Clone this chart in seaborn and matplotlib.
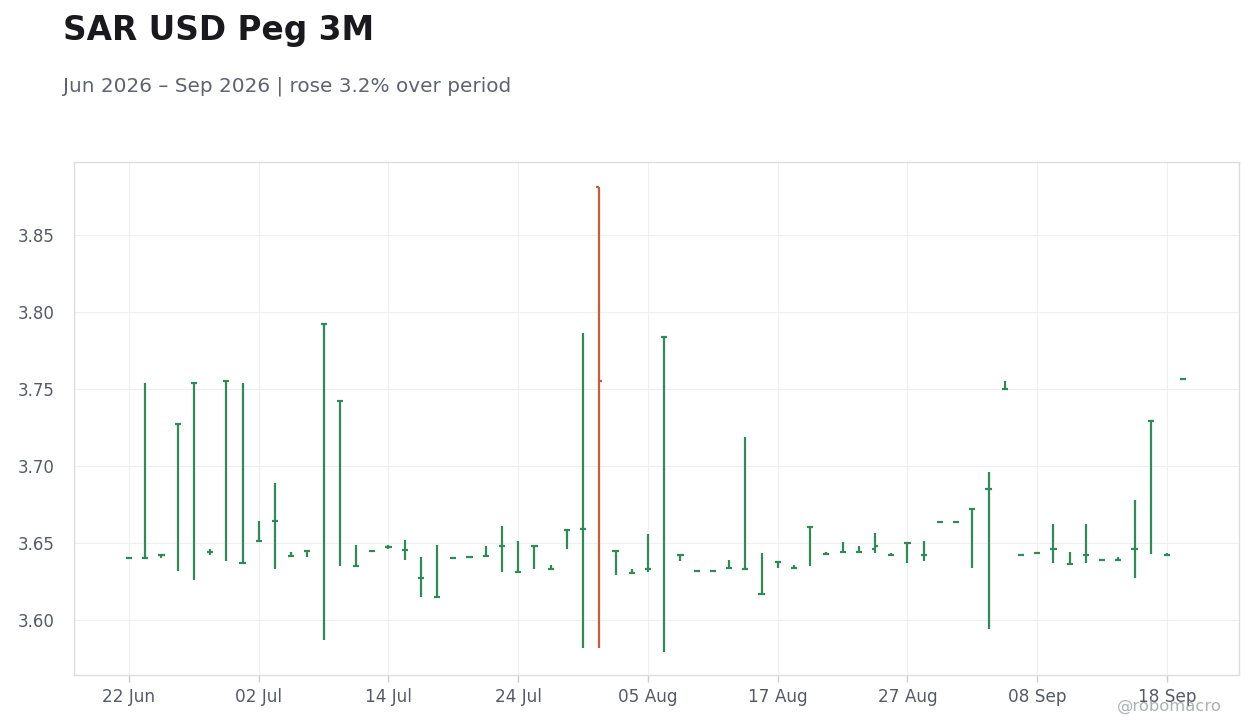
import matplotlib
matplotlib.use("Agg")
import matplotlib.pyplot as plt
import seaborn as sns
import numpy as np
import pandas as pd

# ---- data ----
dates = pd.bdate_range("2026-06-22", periods=66)
open_ = [3.640, 3.640, 3.642, 3.727, 3.754, 3.644, 3.755, 3.637, 3.651, 3.664,
         3.6415, 3.6445, 3.792, 3.742, 3.635, 3.645, 3.6476, 3.6456, 3.6275, 3.615,
         3.6405, 3.641, 3.6415, 3.648, 3.631, 3.648, 3.6334, 3.6587, 3.659, 3.881,
         3.645, 3.6307, 3.633, 3.784, 3.642, 3.632, 3.632, 3.634, 3.633, 3.617,
         3.6374, 3.634, 3.6606, 3.643, 3.644, 3.644, 3.6463, 3.6424, 3.650, 3.6424,
         3.6634, 3.6634, 3.672, 3.685, 3.750, 3.642, 3.6437, 3.646, 3.6366, 3.642,
         3.6392, 3.6392, 3.646, 3.729, 3.6424, 3.7567]
high = [3.640, 3.754, 3.642, 3.727, 3.754, 3.646, 3.755, 3.754, 3.664, 3.689,
        3.644, 3.6445, 3.792, 3.742, 3.649, 3.645, 3.6487, 3.652, 3.641, 3.649,
        3.6405, 3.641, 3.648, 3.661, 3.651, 3.648, 3.6355, 3.6587, 3.786, 3.881,
        3.645, 3.633, 3.656, 3.784, 3.642, 3.632, 3.632, 3.639, 3.719, 3.6435,
        3.6374, 3.6357, 3.6606, 3.644, 3.6506, 3.648, 3.6565, 3.6433, 3.650, 3.651,
        3.6634, 3.664, 3.672, 3.696, 3.755, 3.643, 3.6437, 3.662, 3.644, 3.662,
        3.6392, 3.6407, 3.678, 3.729, 3.6433, 3.7567]
low = [3.640, 3.640, 3.640, 3.632, 3.626, 3.642, 3.638, 3.637, 3.651, 3.633,
       3.6415, 3.641, 3.587, 3.635, 3.635, 3.645, 3.646, 3.639, 3.615, 3.615,
       3.6405, 3.641, 3.6415, 3.631, 3.631, 3.633, 3.6334, 3.646, 3.582, 3.582,
       3.629, 3.6307, 3.631, 3.579, 3.6385, 3.632, 3.632, 3.634, 3.633, 3.617,
       3.634, 3.634, 3.635, 3.643, 3.644, 3.644, 3.6437, 3.6424, 3.637, 3.6385,
       3.6634, 3.6634, 3.634, 3.594, 3.750, 3.642, 3.6437, 3.637, 3.6366, 3.637,
       3.6392, 3.6392, 3.627, 3.643, 3.6424, 3.7567]
close = [3.640, 3.640, 3.642, 3.727, 3.754, 3.644, 3.755, 3.637, 3.651, 3.664,
         3.6415, 3.6445, 3.792, 3.742, 3.635, 3.645, 3.6476, 3.6456, 3.6275, 3.615,
         3.6405, 3.641, 3.6415, 3.648, 3.631, 3.648, 3.6334, 3.6587, 3.659, 3.755,
         3.645, 3.6307, 3.633, 3.784, 3.642, 3.632, 3.632, 3.634, 3.633, 3.617,
         3.6374, 3.634, 3.6606, 3.643, 3.644, 3.644, 3.6483, 3.6424, 3.650, 3.6424,
         3.6634, 3.6634, 3.672, 3.685, 3.750, 3.642, 3.6437, 3.646, 3.6366, 3.642,
         3.6392, 3.6392, 3.646, 3.729, 3.6424, 3.7567]
y_ticks = [3.60, 3.65, 3.70, 3.75, 3.80, 3.85]

title = "SAR USD Peg 3M"
subtitle = "Jun 2026 \u2013 Sep 2026 | rose 3.2% over period"
watermark = "@robomacro"

UP = "#2e8b57"
DOWN = "#cc5b3d"

df = pd.DataFrame({"date": dates, "open": open_, "high": high, "low": low, "close": close})
df["idx"] = np.arange(len(df))
df["color"] = np.where(df["close"] >= df["open"], UP, DOWN)

sns.set_theme(style="whitegrid")
plt.rcParams["font.family"] = ["DejaVu Sans"]

fig = plt.figure(figsize=(12.6, 7.28), dpi=100)
ax = fig.add_axes([74 / 1260, 1 - 675 / 728, (1239 - 74) / 1260, (675 - 162) / 728])
ax.set_facecolor("white")

tw = 0.19
ax.vlines(df["idx"], df["low"], df["high"], colors=df["color"], linewidth=1.6, zorder=3)
ax.hlines(df["open"], df["idx"] - tw, df["idx"], colors=df["color"], linewidth=1.6, zorder=3)
ax.hlines(df["close"], df["idx"], df["idx"] + tw, colors=df["color"], linewidth=1.6, zorder=3)

ax.set_xlim(-3.39, 68.44)
ax.set_ylim(3.5643, 3.8973)

xt = list(range(0, len(df), 8))
ax.set_xticks(xt)
ax.set_xticklabels([df["date"][i].strftime("%d %b") for i in xt])
ax.set_yticks(y_ticks)
ax.set_yticklabels([f"{v:.2f}" for v in y_ticks])

ax.grid(True, color="#efefef", linewidth=0.8)
for s in ax.spines.values():
    s.set_visible(True)
    s.set_color("#dddddd")
    s.set_linewidth(1.0)
ax.tick_params(axis="x", length=5, width=1, color="#cccccc", colors="#555a66",
               labelsize=12.2, pad=4, bottom=True)
ax.tick_params(axis="y", length=0, colors="#555a66", labelsize=12, pad=14)
ax.set_xlabel("")
ax.set_ylabel("")

fig.text(63 / 1260, 1 - 40 / 728, title, fontsize=23.6, fontweight="bold",
         color="#1a1a1e", ha="left", va="baseline")
fig.text(63 / 1260, 1 - 92 / 728, subtitle, fontsize=14.4, color="#5f6270",
         ha="left", va="baseline")
fig.text(1222 / 1260, 1 - 711 / 728, watermark, fontsize=11.8, color="#9a9ca3",
         alpha=0.8, ha="right", va="baseline")

fig.savefig("out.png", dpi=100)
